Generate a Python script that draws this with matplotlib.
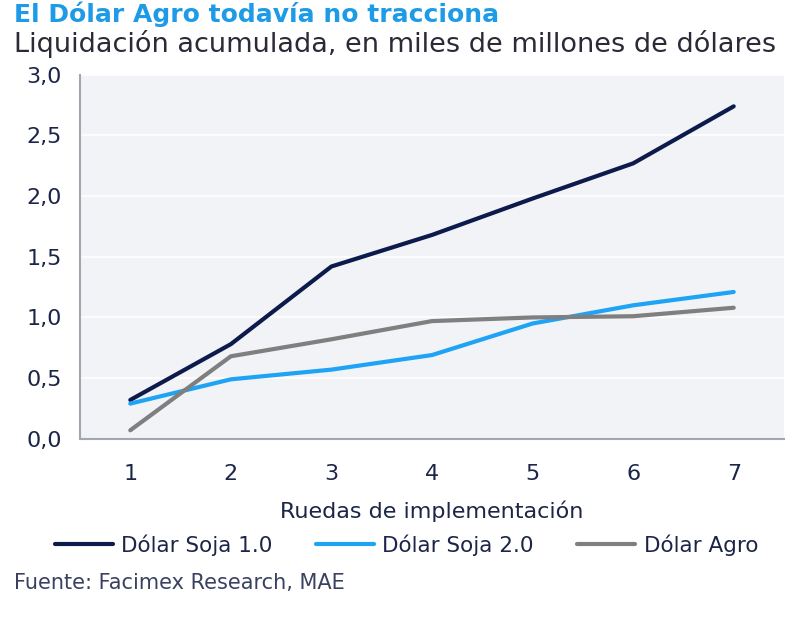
import matplotlib
matplotlib.use("Agg")
import matplotlib.pyplot as plt

# ruedas de implementacion
ruedas = [1, 2, 3, 4, 5, 6, 7]
soja_1 = [0.32, 0.78, 1.42, 1.68, 1.98, 2.27, 2.74]
soja_2 = [0.29, 0.49, 0.57, 0.69, 0.95, 1.10, 1.21]
agro = [0.07, 0.68, 0.82, 0.97, 1.00, 1.01, 1.08]
y_ticks = [0.0, 0.5, 1.0, 1.5, 2.0, 2.5, 3.0]
y_labels = ["0,0", "0,5", "1,0", "1,5", "2,0", "2,5", "3,0"]

navy = "#0d1b4c"
celeste = "#1fa3f5"
gris = "#7f7f7f"
texto = "#1c2548"

plt.rcParams["font.family"] = "DejaVu Sans"

fig = plt.figure(figsize=(8, 6.18), dpi=100)
ax = fig.add_axes([0.1, 0.29, 0.88, 0.589])
ax.set_facecolor("#f2f3f7")

ax.plot(ruedas, soja_1, color=navy, lw=3, label="Dólar Soja 1.0", solid_capstyle="round")
ax.plot(ruedas, soja_2, color=celeste, lw=3, label="Dólar Soja 2.0", solid_capstyle="round")
ax.plot(ruedas, agro, color=gris, lw=3, label="Dólar Agro", solid_capstyle="round")

ax.set_xlim(0.5, 7.5)
ax.set_ylim(0, 3.0)
ax.set_yticks(y_ticks)
ax.set_yticklabels(y_labels)
ax.set_xticks(ruedas)
ax.grid(axis="y", color="white", lw=1.2)
ax.set_axisbelow(True)
ax.tick_params(length=0, labelsize=16, colors=texto)
ax.tick_params(axis="x", pad=18)
ax.tick_params(axis="y", pad=26)
for lbl in ax.get_yticklabels():
    lbl.set_horizontalalignment("center")
for s in ["top", "right"]:
    ax.spines[s].set_visible(False)
for s in ["left", "bottom"]:
    ax.spines[s].set_color("#a3a6b0")
    ax.spines[s].set_linewidth(1.5)

ax.set_xlabel("Ruedas de implementación", fontsize=16, color=texto, labelpad=12)

fig.legend(loc="center", bbox_to_anchor=(0.508, 0.118), ncol=3, frameon=False,
           fontsize=15.5, handlelength=2.7, columnspacing=2.0, handletextpad=0.4,
           labelcolor=texto)

fig.text(0.018, 0.964, "El Dólar Agro todavía no tracciona", fontsize=18,
         fontweight="bold", color="#1d9be6", va="baseline")
fig.text(0.018, 0.916, "Liquidación acumulada, en miles de millones de dólares",
         fontsize=19.5, color="#2b2b38", va="baseline")
fig.text(0.018, 0.047, "Fuente: Facimex Research, MAE", fontsize=15,
         color="#3a4160", va="baseline")

fig.savefig("out.png", dpi=100)
